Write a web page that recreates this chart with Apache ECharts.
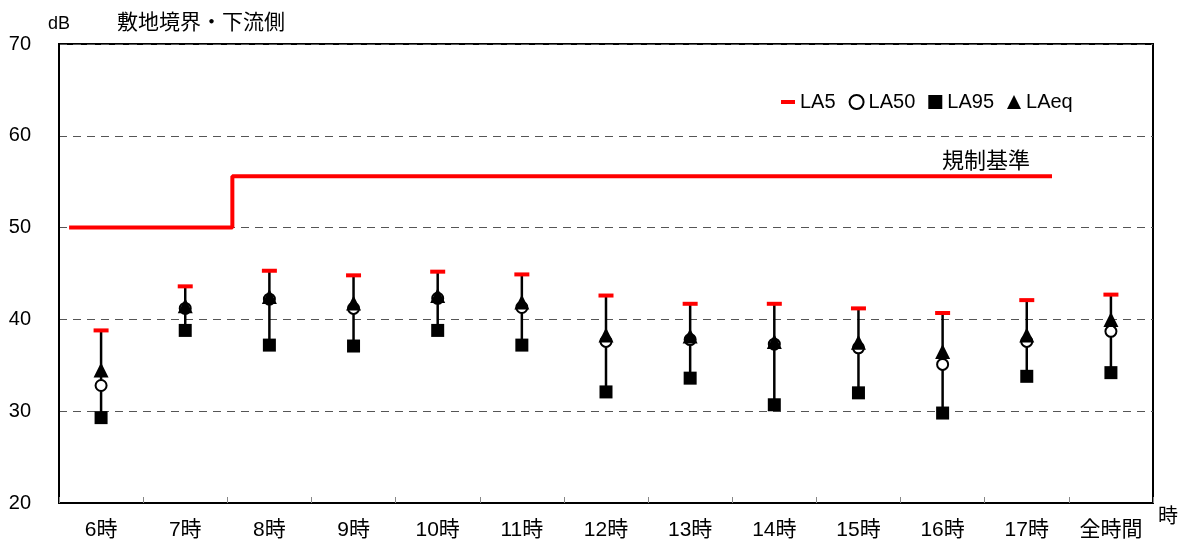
<!DOCTYPE html>
<html>
<head>
<meta charset="utf-8">
<script src="https://cdn.jsdelivr.net/npm/echarts@6/dist/echarts.min.js"></script>
<style>
html,body{margin:0;padding:0;background:#fff;}
#c{width:1187px;height:544px;}
</style>
</head>
<body>
<div id="c"></div>
<script>
const categories = ['6時','7時','8時','9時','10時','11時','12時','13時','14時','15時','16時','17時','全時間'];
const la5  = [38.8, 43.6, 45.3, 44.8, 45.2, 44.9, 42.6, 41.7, 41.7, 41.2, 40.7, 42.1, 42.7];
const laeq = [34.5, 41.5, 42.5, 41.8, 42.6, 41.9, 38.3, 38.2, 37.6, 37.5, 36.5, 38.3, 40.0];
const la50 = [32.8, 41.2, 42.2, 41.2, 42.3, 41.3, 37.6, 37.8, 37.3, 36.9, 35.1, 37.6, 38.7];
const la95 = [29.3, 38.8, 37.2, 37.1, 38.8, 37.2, 32.1, 33.6, 30.7, 32.0, 29.8, 33.8, 34.2];
// regulation step line, x in category-width units from the left edge of the plot
const regX = [0.12, 2.06, 2.06, 11.8];
const regY = [50, 50, 55.6, 55.6];
const yTicks = [20, 30, 40, 50, 60, 70];

const FONT = "'Liberation Sans', Arial, 'Noto Sans CJK JP', sans-serif";
const chart = echarts.init(document.getElementById('c'));

const rangeData = categories.map((c, i) => [i, la5[i], la95[i]]);
const regData = regX.map((x, i) => [x, regY[i]]);

chart.setOption({
  animation: false,
  textStyle: {fontFamily: FONT},
  title: {
    text: '敷地境界・下流側', left: 112, top: 8,
    textStyle: {fontSize: 21, fontWeight: 'normal', color: '#000', fontFamily: FONT}
  },
  legend: {
    left: 776, top: 87,
    itemWidth: 14, itemHeight: 14, itemGap: 13,
    textStyle: {fontSize: 20, color: '#000', fontFamily: FONT, padding: [0,0,0,0]},
    data: [
      {name: 'LA5', icon: 'path://M0,0h14v4h-14z'},
      {name: 'LA50', icon: 'circle'},
      {name: 'LA95', icon: 'rect'},
      {name: 'LAeq', icon: 'triangle'}
    ]
  },
  grid: {left: 59, right: 34, top: 44, bottom: 41, show: true, borderColor: '#000', borderWidth: 2},
  xAxis: [{
    type: 'category', data: categories, boundaryGap: true,
    name: '時', nameLocation: 'end', nameGap: 5,
    nameTextStyle: {fontSize: 20, color: '#000', verticalAlign: 'top', padding: [4,0,0,0]},
    axisLine: {lineStyle: {color: '#000', width: 2}},
    axisTick: {show: true, inside: true, length: 6, interval: 0, lineStyle: {color: '#888'}},
    axisLabel: {fontSize: 21, color: '#000', margin: 17, interval: 0}
  }, {
    type: 'value', min: 0, max: 13, show: false
  }],
  yAxis: {
    type: 'value', min: yTicks[0], max: yTicks[yTicks.length-1], interval: 10,
    name: 'dB', nameLocation: 'end', nameGap: 11,
    nameTextStyle: {fontSize: 18, color: '#000', align: 'center', padding: [0,0,0,0]},
    axisLine: {show: true, lineStyle: {color: '#000', width: 2}},
    axisTick: {show: false},
    axisLabel: {fontSize: 20, color: '#000', margin: 28},
    splitLine: {show: true, lineStyle: {color: '#555', type: [8, 6], width: 1}}
  },
  series: [
    {
      name: 'reg', type: 'line', xAxisIndex: 1, data: regData, symbol: 'none',
      lineStyle: {color: '#ff0000', width: 4}, z: 3
    },
    {
      name: 'range', type: 'custom', data: rangeData, z: 4,
      encode: {x: 0, y: [1, 2]},
      renderItem: function (params, api) {
        const x = api.value(0);
        const hi = api.coord([x, api.value(1)]);
        const lo = api.coord([x, api.value(2)]);
        return {type: 'line', shape: {x1: hi[0], y1: hi[1], x2: lo[0], y2: lo[1]},
          style: {stroke: '#000', lineWidth: 2.5}};
      }
    },
    {
      name: 'LA95', type: 'scatter', data: la95, symbol: 'rect', symbolSize: 13, z: 5,
      itemStyle: {color: '#000', opacity: 1}
    },
    {
      name: 'LA50', type: 'scatter', data: la50, symbol: 'circle', symbolSize: 11, z: 6,
      itemStyle: {color: '#fff', borderColor: '#000', borderWidth: 2, opacity: 1}
    },
    {
      name: 'LAeq', type: 'scatter', data: laeq, symbol: 'triangle', symbolSize: 15, z: 7,
      itemStyle: {color: '#000', opacity: 1}
    },
    {
      name: 'LA5', type: 'scatter', data: la5, symbol: 'rect', symbolSize: [15, 4], z: 8,
      itemStyle: {color: '#ff0000', opacity: 1}
    }
  ]
});

// label for the regulation line, anchored to its last point through the axis scale
const lastPt = chart.convertToPixel({xAxisIndex: 1, yAxisIndex: 0}, regData[regData.length - 1]);
chart.setOption({
  graphic: [{
    type: 'text', x: lastPt[0] - 22, y: lastPt[1] - 6,
    style: {text: '規制基準', fontSize: 22, fill: '#000', align: 'right', verticalAlign: 'bottom',
      fontFamily: "'Noto Sans CJK JP', sans-serif"}
  }]
});
</script>
</body>
</html>
